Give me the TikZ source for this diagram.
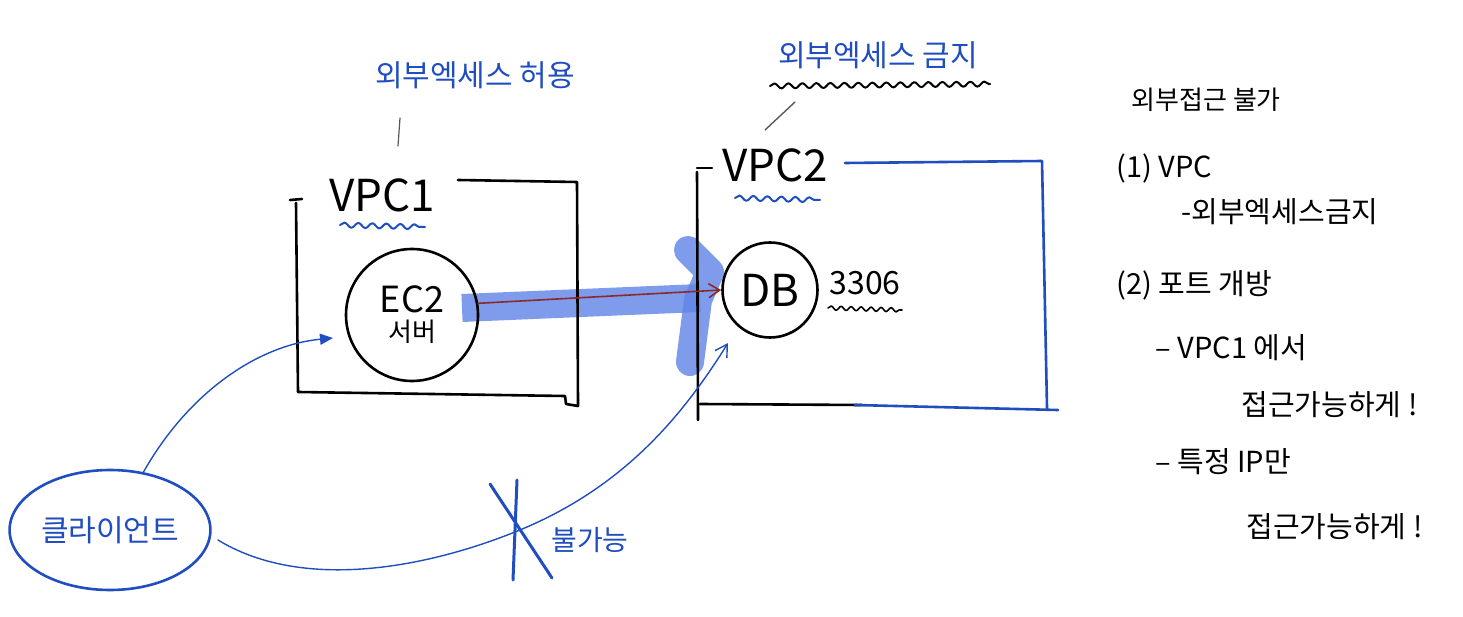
\documentclass[tikz,border=0pt]{standalone}
\usepackage{fontspec}
\setmainfont{Noto Sans CJK KR}
\usetikzlibrary{shapes.geometric,arrows.meta,decorations.pathmorphing}
\definecolor{pen}{RGB}{32,78,192}
\definecolor{marker}{RGB}{96,132,232}
\definecolor{redpen}{RGB}{140,40,40}
\begin{document}
\begin{tikzpicture}[x=1pt,y=-1pt,line cap=round,line join=round,
  ink/.style={line width=2.6pt},
  wavy/.style={decorate,decoration={snake,segment length=14pt,amplitude=2.5pt}},
  penfont/.style={font=\fontsize{30}{34}\selectfont,text=pen},
  notefont/.style={font=\fontsize{29}{32}\selectfont,anchor=west}]
\useasboundingbox[fill=white] (0,0) rectangle (1463,617);
% labels above the boxes
\node[penfont] (allow) at (475,75) {외부엑세스 허용};
\node[penfont] (deny) at (878,55) {외부엑세스 금지};
\draw[wavy,line width=2pt] (770,86) -- (990,84);
\draw[gray!70!black,line width=1.2pt] (400,118) -- (398,146);
\draw[gray!70!black,line width=1.4pt] (795,102) -- (765,130);
% marker highlight
\draw[marker,opacity=.8,line width=28pt,line cap=butt] (462,308) -- (700,298);
\draw[marker,opacity=.8,line width=28pt] (688,250) -- (710,272) -- (698,300) -- (690,362);
% VPC1
\draw[ink] (290,200) -- (302,199);
\draw[ink] (296,203) -- (298,392) -- (565,396) -- (566,404) -- (578,406) -- (577,182) -- (458,180);
\node[font=\fontsize{44}{44}\selectfont] (vpc1) at (382,195) {VPC1};
\draw[wavy,pen,line width=2pt] (340,225) -- (425,227);
\node[circle,draw,ink,minimum size=132pt,inner sep=0pt,align=center] (ec2) at (412,315)
  {{\fontsize{36}{38}\selectfont EC2}\\[6pt]{\fontsize{26}{28}\selectfont 서버}};
% VPC2
\draw[ink] (697,168) -- (712,168);
\draw[ink] (697,172) -- (698,420);
\draw[ink] (700,404) -- (862,405);
\draw[ink,pen] (845,163) -- (1042,161) -- (1047,408);
\draw[ink,pen] (855,405) -- (1058,410);
\node[font=\fontsize{44}{44}\selectfont] (vpc2) at (775,165) {VPC2};
\draw[wavy,pen,line width=2pt] (735,198) -- (820,200);
\node[circle,draw,ink,minimum size=95pt,inner sep=0pt,font=\fontsize{44}{44}\selectfont] (db) at (770,290) {DB};
\node[font=\fontsize{32}{34}\selectfont] (port) at (865,283) {3306};
\draw[wavy,line width=1.6pt,decoration={amplitude=2pt,segment length=10pt}] (828,308) -- (902,310);
% client
\node[ellipse,draw,pen,ink,minimum width=182pt,minimum height=120pt,text=pen,
  font=\fontsize{30}{32}\selectfont,inner sep=2pt] (client) at (110,530) {클라이언트};
\coordinate (tipA) at (333,338);
\coordinate (tipB) at (728,343);
\draw[pen,line width=1.4pt,-{Triangle[length=13pt,width=11pt]}] (client.60) .. controls (190,390) and (260,345) .. (tipA);
\draw[redpen,line width=1.6pt,-{Straight Barb[length=11pt,width=14pt]}] (ec2.10) -- (db.west);
\draw[pen,line width=1.4pt,-{Straight Barb[length=12pt,width=14pt]}] (218,540) .. controls (300,590) and (420,570) .. (515,532)
  .. controls (620,490) and (680,420) .. (tipB);
% blocked
\draw[pen,line width=3pt] (490,484) -- (552,578);
\draw[pen,line width=3pt] (517,480) -- (513,580);
\node[penfont,font=\fontsize{28}{30}\selectfont] (nope) at (590,540) {불가능};
% notes
\node[notefont,font=\fontsize{26}{30}\selectfont] (n0) at (1128,100) {외부접근 불가};
\node[notefont] (n1) at (1113,168) {(1) VPC};
\node[notefont] (n2) at (1178,212) {-외부엑세스금지};
\node[notefont] (n3) at (1113,285) {(2) 포트 개방};
\node[notefont] (n4) at (1152,348) {– VPC1 에서};
\node[notefont] (n5) at (1238,405) {접근가능하게 !};
\node[notefont] (n6) at (1152,462) {– 특정 IP만};
\node[notefont] (n7) at (1243,527) {접근가능하게 !};
\end{tikzpicture}
\end{document}
